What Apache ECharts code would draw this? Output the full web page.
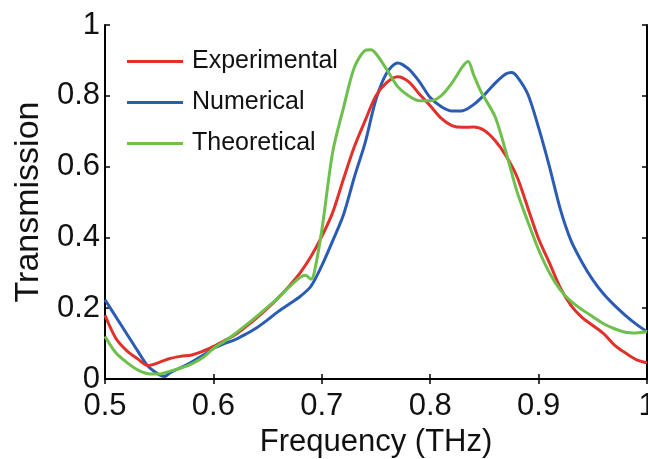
<!DOCTYPE html>
<html>
<head>
<meta charset="utf-8">
<script src="https://cdn.jsdelivr.net/npm/echarts@6/dist/echarts.min.js"></script>
<style>
html,body{margin:0;padding:0;background:#fff;}
#c{width:648px;height:459px;}
</style>
</head>
<body>
<div id="c"></div>
<script>
var seriesNames = ['Experimental', 'Numerical', 'Theoretical'];
var xTicks = [0.5, 0.6, 0.7, 0.8, 0.9, 1];
var yTicks = [0, 0.2, 0.4, 0.6, 0.8, 1];

var expFreq = [0.5,0.51,0.52,0.53,0.54,0.55,0.56,0.57,0.58,0.59,0.6,0.61,0.62,0.63,0.64,0.65,0.66,0.67,0.68,0.69,0.7,0.71,0.72,0.73,0.74,0.75,0.76,0.77,0.78,0.79,0.8,0.81,0.82,0.83,0.84,0.85,0.86,0.87,0.88,0.89,0.9,0.91,0.92,0.93,0.94,0.95,0.96,0.97,0.98,0.99,1.0];
var expT = [0.18,0.115,0.08,0.057,0.038,0.047,0.058,0.064,0.068,0.078,0.092,0.108,0.125,0.148,0.173,0.2,0.23,0.263,0.3,0.346,0.403,0.47,0.565,0.656,0.73,0.8,0.838,0.854,0.84,0.805,0.772,0.737,0.716,0.711,0.712,0.702,0.673,0.63,0.572,0.484,0.396,0.328,0.258,0.207,0.174,0.151,0.128,0.096,0.074,0.055,0.046];

var numFreq = [0.5,0.51,0.52,0.53,0.54,0.55,0.555,0.56,0.57,0.58,0.59,0.6,0.61,0.62,0.63,0.64,0.65,0.66,0.67,0.68,0.69,0.7,0.71,0.72,0.73,0.74,0.75,0.76,0.77,0.78,0.79,0.8,0.81,0.82,0.83,0.84,0.85,0.86,0.87,0.875,0.88,0.89,0.9,0.91,0.92,0.93,0.94,0.95,0.96,0.97,0.98,0.99,1.0];
var numT = [0.224,0.176,0.128,0.08,0.035,0.012,0.007,0.018,0.032,0.048,0.066,0.086,0.1,0.111,0.127,0.145,0.167,0.191,0.212,0.233,0.262,0.32,0.39,0.464,0.57,0.668,0.79,0.865,0.893,0.876,0.84,0.795,0.77,0.757,0.758,0.775,0.803,0.836,0.862,0.866,0.855,0.805,0.71,0.6,0.48,0.39,0.33,0.28,0.24,0.208,0.18,0.155,0.134];

var theoFreq = [0.5,0.51,0.52,0.53,0.54,0.55,0.56,0.57,0.58,0.59,0.6,0.61,0.62,0.63,0.64,0.65,0.66,0.67,0.68,0.685,0.69,0.693,0.7,0.71,0.72,0.73,0.74,0.745,0.75,0.76,0.77,0.78,0.79,0.8,0.81,0.82,0.83,0.835,0.84,0.846,0.85,0.86,0.87,0.88,0.89,0.9,0.91,0.92,0.93,0.94,0.95,0.96,0.97,0.98,0.99,1.0];
var theoT = [0.12,0.074,0.047,0.026,0.015,0.014,0.022,0.031,0.043,0.06,0.086,0.106,0.128,0.152,0.177,0.203,0.23,0.26,0.287,0.293,0.282,0.3,0.42,0.64,0.766,0.88,0.928,0.93,0.919,0.874,0.826,0.8,0.786,0.786,0.8,0.836,0.883,0.897,0.86,0.817,0.795,0.74,0.64,0.53,0.445,0.365,0.3,0.252,0.219,0.196,0.176,0.156,0.142,0.132,0.13,0.134];

var colors = ['#e0312a', '#2b5cb3', '#6cc04b'];

function pairs(xs, ys) { return xs.map(function (x, i) { return [x, ys[i]]; }); }

var FONT = '"Liberation Sans", Arial, Helvetica, sans-serif';
var fmt = function (v) { return String(+(+v).toFixed(1)); };

var chart = echarts.init(document.getElementById('c'), null, { renderer: 'canvas' });
var tickStyle = { show: true, inside: true, length: 5, lineStyle: { color: '#000', width: 1.5 } };
var lineStyle = { show: true, lineStyle: { color: '#000', width: 2 } };

chart.setOption({
  animation: false,
  backgroundColor: '#fff',
  textStyle: { fontFamily: FONT },
  grid: { left: 105, right: 1, top: 25, bottom: 80, containLabel: false, outerBoundsMode: 'none' },
  legend: {
    data: seriesNames.map(function (n, i) { return { name: n, icon: 'rect', itemStyle: { color: colors[i] } }; }),
    orient: 'vertical',
    left: 127, top: 49, padding: 0,
    itemWidth: 56, itemHeight: 3, itemGap: 16,
    textStyle: { fontFamily: FONT, fontSize: 25, color: '#111', padding: [0, 0, 0, 4] }
  },
  xAxis: [
    {
      type: 'value', position: 'bottom',
      min: xTicks[0], max: xTicks[xTicks.length - 1], interval: 0.1,
      axisLine: lineStyle, axisTick: tickStyle, splitLine: { show: false },
      axisLabel: { fontSize: 31, color: '#111', margin: 12, fontFamily: FONT, formatter: fmt },
      name: 'Frequency (THz)', nameLocation: 'middle', nameGap: 39,
      nameTextStyle: { fontSize: 31, color: '#111', fontFamily: FONT }
    },
    {
      type: 'value', position: 'top',
      min: xTicks[0], max: xTicks[xTicks.length - 1], interval: 0.1,
      axisLine: lineStyle, axisTick: tickStyle, splitLine: { show: false },
      axisLabel: { show: false }
    }
  ],
  yAxis: [
    {
      type: 'value', position: 'left',
      min: yTicks[0], max: yTicks[yTicks.length - 1], interval: 0.2,
      axisLine: lineStyle, axisTick: tickStyle, splitLine: { show: false },
      axisLabel: { fontSize: 31, color: '#111', margin: 5, fontFamily: FONT, formatter: fmt, padding: [6, 0, 0, 0] },
      name: 'Transmission', nameLocation: 'middle', nameGap: 57,
      nameTextStyle: { fontSize: 34, color: '#111', fontFamily: FONT }
    },
    {
      type: 'value', position: 'right',
      min: yTicks[0], max: yTicks[yTicks.length - 1], interval: 0.2,
      axisLine: lineStyle, axisTick: tickStyle, splitLine: { show: false },
      axisLabel: { show: false }
    }
  ],
  series: [
    { name: seriesNames[0], type: 'line', data: pairs(expFreq, expT), showSymbol: false, symbol: 'none', smooth: 0.3, color: colors[0], lineStyle: { width: 3, color: colors[0] }, z: 3 },
    { name: seriesNames[1], type: 'line', data: pairs(numFreq, numT), showSymbol: false, symbol: 'none', smooth: 0.3, color: colors[1], lineStyle: { width: 3, color: colors[1] }, z: 2 },
    { name: seriesNames[2], type: 'line', data: pairs(theoFreq, theoT), showSymbol: false, symbol: 'none', smooth: 0.3, color: colors[2], lineStyle: { width: 3, color: colors[2] }, z: 4 }
  ]
});
</script>
</body>
</html>
